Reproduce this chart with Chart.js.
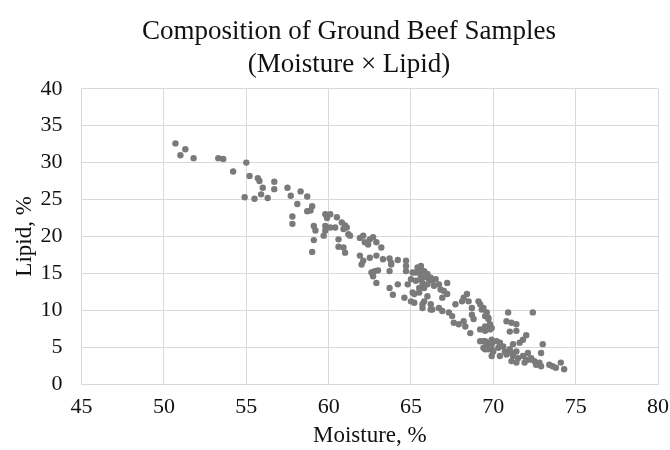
<!DOCTYPE html>
<html>
<head>
<meta charset="utf-8">
<script src="https://cdn.jsdelivr.net/npm/chart.js@4.4.0/dist/chart.umd.min.js"></script>
<style>
  html, body { margin: 0; padding: 0; background: #fff; }
  #wrap { width: 670px; height: 450px; }
</style>
</head>
<body>
<div id="wrap"><canvas id="beefChart"></canvas></div>
<script>
// Moisture (%) and lipid (%) per sample
const moisture = [
  50.7, 51.3, 51.0, 51.8, 53.3, 53.6, 55.0, 54.2, 55.2, 55.7, 54.9, 55.5,
  55.8, 56.0, 56.7, 56.7, 55.9, 56.3, 57.5, 57.7, 58.3, 58.7, 58.1, 59.0,
  58.9, 58.7, 57.8, 57.8, 59.1, 59.2, 59.1, 59.0, 59.8, 60.1, 59.9, 60.5,
  59.8, 60.1, 60.4, 59.8, 59.7, 60.6, 60.6, 60.8, 61.1, 61.2, 60.9, 61.0,
  61.0, 60.9, 61.3, 61.9, 62.1, 62.2, 62.5, 62.7, 62.9, 63.2, 62.4, 61.9,
  62.1, 62.0, 62.5, 62.9, 63.3, 63.7, 63.8, 64.2, 64.7, 62.6, 62.8, 63.0,
  62.7, 62.9, 63.7, 63.8, 63.7, 63.9, 64.2, 64.7, 64.7, 65.1, 65.4, 65.6,
  65.5, 65.8, 66.0, 65.0, 64.8, 65.3, 65.6, 65.7, 65.5, 65.8, 66.0, 65.1,
  64.6, 65.0, 65.2, 65.8, 65.7, 66.1, 66.0, 66.2, 65.6, 65.3, 65.6, 65.9,
  66.2, 66.3, 66.5, 66.4, 66.7, 66.8, 67.0, 67.2, 67.2, 66.9, 65.5, 65.2,
  65.7, 66.2, 66.3, 66.7, 66.9, 67.3, 67.5, 67.7, 67.6, 67.9, 68.1, 68.2,
  68.4, 68.5, 68.2, 68.3, 68.7, 68.7, 68.8, 68.6, 69.1, 69.2, 69.3, 69.6,
  69.7, 69.2, 69.5, 69.8, 69.8, 69.4, 69.6, 69.9, 69.5, 69.9, 69.4, 69.5,
  69.7, 69.9, 69.5, 70.9, 72.4, 70.8, 71.1, 71.4, 71.0, 71.4, 72.0, 71.8,
  71.6, 71.2, 69.2, 69.5, 69.7, 69.9, 70.2, 70.4, 69.4, 69.7, 70.0, 70.3,
  70.6, 70.7, 70.8, 71.0, 71.1, 71.2, 71.4, 71.5, 71.8, 72.0, 72.1, 72.2,
  72.3, 72.5, 72.6, 72.8, 72.9, 73.0, 72.9, 73.4, 73.6, 73.8, 74.1, 74.3,
  69.9, 70.4, 71.9, 71.4, 71.1
];
const lipid = [
  32.6, 31.8, 31.0, 30.6, 30.6, 30.5, 30.0, 28.8, 28.2, 27.9, 25.3, 25.1,
  27.5, 26.6, 27.4, 26.4, 25.7, 25.2, 26.6, 25.5, 26.1, 25.4, 24.4, 24.1,
  23.5, 23.4, 22.7, 21.7, 21.4, 20.8, 19.5, 17.9, 23.0, 23.0, 22.5, 22.6,
  21.4, 21.2, 21.2, 20.8, 20.1, 19.6, 18.6, 21.9, 21.2, 20.3, 18.5, 17.8,
  21.5, 21.0, 20.1, 19.8, 20.1, 19.2, 19.6, 19.9, 19.2, 18.5, 18.9, 17.4,
  16.7, 16.2, 17.1, 17.4, 16.9, 17.0, 16.4, 16.8, 16.7, 15.1, 15.3, 15.4,
  14.6, 13.7, 15.3, 16.2, 13.0, 12.1, 13.5, 16.0, 15.3, 15.1, 15.8, 16.0,
  15.1, 15.3, 14.9, 14.2, 13.5, 14.0, 14.2, 13.7, 13.0, 13.0, 13.5, 12.4,
  11.7, 11.2, 11.0, 11.2, 10.8, 14.2, 11.9, 10.1, 15.5, 15.1, 14.6, 14.5,
  14.4, 14.0, 14.2, 13.3, 13.5, 12.8, 12.6, 13.7, 12.2, 11.7, 12.4, 12.2,
  10.3, 10.8, 10.1, 10.3, 9.9, 9.7, 9.2, 10.8, 8.3, 8.1, 11.2, 11.7,
  12.2, 11.2, 8.5, 7.8, 10.3, 9.4, 8.8, 6.9, 11.2, 10.8, 10.1, 9.7,
  9.0, 7.4, 7.8, 8.1, 7.4, 5.8, 5.4, 6.0, 4.7, 4.7, 10.3, 9.2,
  8.8, 7.6, 7.2, 9.7, 9.7, 8.5, 8.3, 8.1, 7.1, 7.2, 6.6, 6.0,
  5.6, 5.4, 5.8, 5.8, 5.6, 5.4, 5.8, 5.6, 4.9, 4.7, 4.4, 4.9,
  5.1, 4.4, 4.0, 4.7, 4.2, 3.8, 4.4, 3.5, 3.8, 3.3, 4.2, 3.3,
  3.5, 3.1, 2.6, 2.9, 2.4, 5.4, 4.2, 2.6, 2.4, 2.2, 2.9, 2.0,
  3.8, 3.8, 2.9, 2.9, 3.1
];
const xTicks = [45, 50, 55, 60, 65, 70, 75, 80];
const yTicks = [0, 5, 10, 15, 20, 25, 30, 35, 40];

const points = moisture.map((m, i) => ({ x: m, y: lipid[i] }));
const serif = "'Liberation Serif', 'Times New Roman', serif";
const gridColor = '#d9d9d9';

new Chart(document.getElementById('beefChart'), {
  type: 'scatter',
  data: {
    datasets: [{
      label: 'Samples',
      data: points,
      backgroundColor: '#7a7a7a',
      borderColor: '#7a7a7a',
      borderWidth: 0,
      pointRadius: 3.2,
      pointHoverRadius: 3.2
    }]
  },
  options: {
    responsive: true,
    maintainAspectRatio: false,
    animation: false,
    // big left padding pushes the title centre right; the y title pulls back with negative padding
    layout: { padding: { top: 16, right: 12, bottom: 0, left: 40 } },
    plugins: {
      legend: { display: false },
      tooltip: { enabled: false },
      title: {
        display: true,
        text: ['Composition of Ground Beef Samples', '(Moisture \u00d7 Lipid)'],
        color: '#111',
        font: { family: serif, size: 27, weight: 'normal', lineHeight: 1.2 },
        padding: { top: 0, bottom: 8 }
      }
    },
    scales: {
      x: {
        type: 'linear',
        min: 45,
        max: 80,
        afterBuildTicks: axis => { axis.ticks = xTicks.map(v => ({ value: v })); },
        // let the "80" label hang past the plot edge like the original
        afterFit: axis => { axis.paddingRight = 0; },
        grid: { color: gridColor, drawTicks: false },
        border: { color: gridColor },
        ticks: { color: '#111', padding: 10, font: { family: serif, size: 22 } },
        title: {
          display: true,
          text: 'Moisture, %',
          color: '#111',
          font: { family: serif, size: 23 },
          padding: { top: -8, bottom: 0 }
        }
      },
      y: {
        min: 0,
        max: 40,
        afterBuildTicks: axis => { axis.ticks = yTicks.map(v => ({ value: v })); },
        grid: { color: gridColor, drawTicks: false },
        border: { color: gridColor },
        ticks: { color: '#111', padding: 19, font: { family: serif, size: 22 } },
        title: {
          display: true,
          text: 'Lipid, %',
          color: '#111',
          font: { family: serif, size: 23 },
          padding: { top: -29, bottom: -17 }
        }
      }
    }
  }
});
</script>
</body>
</html>
